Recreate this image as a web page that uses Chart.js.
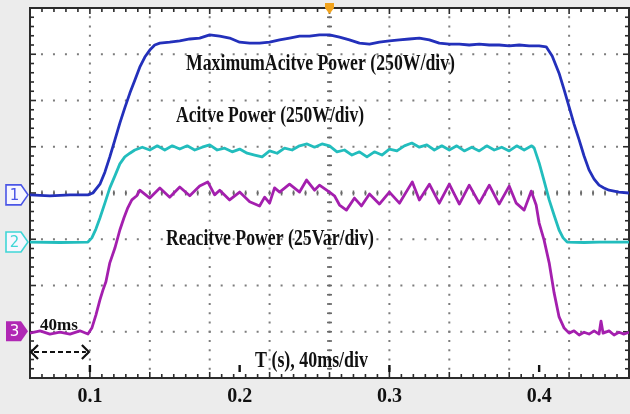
<!DOCTYPE html>
<html>
<head>
<meta charset="utf-8">
<script src="https://cdn.jsdelivr.net/npm/chart.js@4.4.1/dist/chart.umd.min.js"></script>
<style>
  html, body { margin: 0; padding: 0; background: #ececec; }
  canvas { display: block; }
</style>
</head>
<body>
<canvas id="scope" width="630" height="414"></canvas>
<script>
// time in seconds, level in screen divisions (0 = bottom, 8 = top)
var xTicks = [0.1, 0.2, 0.3, 0.4];

var maxActive = [
  [0.06,3.96],[0.0733,3.94],[0.0867,3.96],[0.0987,3.96],[0.102,4.00],[0.1067,4.19],[0.11,4.45],
  [0.1133,4.78],[0.1167,5.15],[0.12,5.51],[0.1233,5.84],[0.1267,6.16],[0.13,6.44],[0.1333,6.72],
  [0.1367,6.94],[0.14,7.09],[0.1433,7.20],[0.1467,7.24],[0.1533,7.26],[0.16,7.29],[0.1667,7.33],
  [0.1733,7.35],[0.18,7.42],[0.1867,7.39],[0.1933,7.35],[0.2,7.26],[0.2067,7.24],[0.2133,7.24],
  [0.22,7.26],[0.2267,7.31],[0.2333,7.35],[0.24,7.39],[0.2467,7.39],[0.2533,7.42],[0.26,7.42],
  [0.2667,7.37],[0.2733,7.31],[0.28,7.24],[0.2867,7.22],[0.2933,7.26],[0.3,7.29],[0.3067,7.31],
  [0.3133,7.33],[0.32,7.35],[0.3267,7.31],[0.3333,7.24],[0.34,7.22],[0.3467,7.22],[0.3533,7.20],
  [0.36,7.22],[0.3667,7.20],[0.3733,7.20],[0.38,7.18],[0.3867,7.20],[0.3933,7.18],[0.4,7.18],
  [0.4047,7.16],[0.4087,6.96],[0.4133,6.59],[0.4167,6.23],[0.42,5.86],[0.4233,5.49],[0.4267,5.15],
  [0.43,4.80],[0.4333,4.50],[0.4367,4.30],[0.44,4.17],[0.4433,4.11],[0.4467,4.06],[0.4533,4.02],[0.46,4.00]
];

var active = [
  [0.06,2.94],[0.08,2.93],[0.0987,2.94],[0.1013,3.03],[0.104,3.22],[0.1067,3.46],[0.11,3.78],
  [0.1133,4.11],[0.1167,4.37],[0.12,4.63],[0.1233,4.78],[0.1267,4.86],[0.13,4.93],
  [0.135,4.99],[0.14,4.93],[0.145,5.02],[0.15,4.93],[0.155,5.02],[0.16,4.95],[0.165,5.02],
  [0.17,4.93],[0.175,4.99],[0.18,5.04],[0.185,4.93],[0.19,4.97],[0.195,4.89],[0.2,4.95],
  [0.205,4.86],[0.21,4.82],[0.215,4.78],[0.22,4.91],[0.225,4.86],[0.23,4.97],[0.235,4.93],
  [0.24,5.02],[0.245,5.06],[0.25,4.99],[0.255,5.06],[0.26,5.02],[0.265,4.89],[0.27,4.93],
  [0.275,4.82],[0.28,4.89],[0.285,4.78],[0.29,4.89],[0.295,4.82],[0.3,4.95],[0.305,4.91],
  [0.31,5.02],[0.315,5.08],[0.32,4.99],[0.325,5.04],[0.33,4.93],[0.335,5.02],[0.34,4.93],
  [0.345,5.02],[0.35,4.91],[0.355,4.99],[0.36,4.91],[0.365,5.02],[0.37,4.93],[0.375,4.99],
  [0.38,4.91],[0.385,5.02],[0.39,4.93],[0.395,5.02],[0.3967,4.97],[0.4,4.65],[0.4033,4.26],
  [0.4067,3.85],[0.41,3.52],[0.4133,3.20],[0.416,3.03],[0.4187,2.94],[0.43,2.93],[0.44,2.94],[0.46,2.94]
];

var reactive = [
  [0.06,0.97],[0.0667,1.02],[0.0733,0.95],[0.08,0.99],[0.0867,0.95],[0.0933,1.02],[0.0987,0.95],
  [0.1013,1.08],[0.104,1.36],[0.1067,1.69],[0.1087,1.90],[0.1107,2.08],[0.1133,2.49],[0.1167,2.81],
  [0.12,3.20],[0.1227,3.46],[0.1253,3.68],[0.128,3.85],[0.1313,3.94],
  [0.1333,4.06],[0.14,3.89],[0.1467,4.11],[0.1533,3.91],[0.16,4.13],[0.1667,3.94],[0.1733,4.15],
  [0.1787,4.24],[0.1833,3.96],[0.1867,4.06],[0.1933,3.85],[0.2,4.02],[0.2067,3.81],[0.2133,3.72],
  [0.2167,3.91],[0.22,3.78],[0.2233,4.11],[0.2267,4.02],[0.2333,4.19],[0.24,4.02],[0.2447,4.28],
  [0.25,4.06],[0.2533,4.17],[0.26,4.02],[0.2633,3.94],[0.2667,3.74],[0.2713,3.63],[0.2767,3.89],
  [0.2813,3.72],[0.2867,3.98],[0.2933,3.76],[0.3,4.02],[0.3067,3.78],[0.3153,4.24],[0.32,3.85],
  [0.3267,4.19],[0.3333,3.78],[0.34,4.19],[0.3467,3.76],[0.3533,4.17],[0.36,3.78],[0.3667,4.17],
  [0.3733,3.76],[0.38,4.15],[0.3847,3.78],[0.39,3.63],[0.3947,4.04],[0.398,3.74],[0.4,3.35],
  [0.4033,2.98],[0.4067,2.49],[0.41,1.84],[0.4133,1.32],[0.4167,1.08],[0.42,0.97],[0.4233,1.02],
  [0.4267,0.93],[0.43,0.99],[0.4333,0.95],[0.4367,1.02],[0.44,0.95],[0.4413,1.23],[0.4427,0.97],
  [0.4467,1.02],[0.45,0.93],[0.4533,0.99],[0.4567,0.95],[0.46,0.99]
];

function pts(arr) { return arr.map(function (p) { return { x: p[0], y: p[1] }; }); }

var SERIF = '"Liberation Serif", "Times New Roman", serif';

// scope screen: grey surround, dotted graticule, border ticks
var screenPlugin = {
  id: 'screen',
  beforeDraw: function (chart) {
    var ctx = chart.ctx, a = chart.chartArea, x = chart.scales.x, y = chart.scales.y;
    ctx.save();
    ctx.fillStyle = '#ececec';
    ctx.fillRect(0, 0, chart.width, chart.height);
    ctx.fillStyle = '#ffffff';
    ctx.fillRect(a.left, a.top, a.right - a.left, a.bottom - a.top);

    var divW = x.getPixelForValue(0.1) - x.getPixelForValue(0.06);
    var divH = y.getPixelForValue(0) - y.getPixelForValue(1);
    var i, k, px, py;
    ctx.fillStyle = '#7c7c7c';
    for (k = 1; k < 10; k++) {
      px = x.getPixelForValue(0.06 + 0.04 * k);
      for (i = 1; i < 40; i++) ctx.fillRect(px - 1, a.top + i * divH / 5 - 1, 2, 2);
    }
    for (k = 1; k < 8; k++) {
      py = y.getPixelForValue(k);
      for (i = 1; i < 50; i++) ctx.fillRect(a.left + i * divW / 5 - 1, py - 1, 2, 2);
    }
    // centre axes with minor marks
    var cx = x.getPixelForValue(0.26), cy = y.getPixelForValue(4);
    ctx.fillStyle = '#6a6a6a';
    for (i = 1; i < 40; i++) ctx.fillRect(cx - 2.5, a.top + i * divH / 5 - 0.8, 5, 1.6);
    for (i = 1; i < 50; i++) ctx.fillRect(a.left + i * divW / 5 - 0.8, cy - 2.5, 1.6, 5);

    // border with inward ticks
    ctx.strokeStyle = '#2b2b2b';
    ctx.lineWidth = 2;
    ctx.strokeRect(a.left, a.top, a.right - a.left, a.bottom - a.top);
    ctx.fillStyle = '#2b2b2b';
    for (i = 1; i < 50; i++) {
      px = a.left + i * divW / 5;
      var len = (i % 5 === 0) ? 6 : 4;
      ctx.fillRect(px - 0.8, a.top, 1.6, len);
      ctx.fillRect(px - 0.8, a.bottom - len, 1.6, len);
    }
    for (i = 1; i < 40; i++) {
      py = a.top + i * divH / 5;
      var l2 = (i % 5 === 0) ? 6 : 4;
      ctx.fillRect(a.left, py - 0.8, l2, 1.6);
      ctx.fillRect(a.right - l2, py - 0.8, l2, 1.6);
    }
    // time tick bars
    ctx.fillStyle = '#111';
    xTicks.forEach(function (t) {
      var tx = x.getPixelForValue(t);
      ctx.fillRect(tx - 1.2, a.bottom - 13, 2.4, 7);
    });
    ctx.restore();
  },
  afterDraw: function (chart) {
    var ctx = chart.ctx, a = chart.chartArea, x = chart.scales.x, y = chart.scales.y;
    ctx.save();
    // labels, condensed bold serif like the original screenshot
    function label(text, lx, base, w, size) {
      ctx.font = 'bold ' + size + 'px ' + SERIF;
      var m = ctx.measureText(text).width;
      ctx.save();
      ctx.translate(lx, base);
      ctx.scale(w / m, 1);
      ctx.fillStyle = '#111';
      ctx.textBaseline = 'alphabetic';
      ctx.fillText(text, 0, 0);
      ctx.restore();
    }
    label('MaximumAcitve Power (250W/div)', 186, 70, 269, 23);
    label('Acitve Power (250W/div)', 176, 122, 188, 23);
    label('Reacitve Power (25Var/div)', 166, 245, 208, 23);
    label('40ms', 40, 330, 38, 17);
    label('T (s), 40ms/div', 255, 367, 113, 23);

    // 40 ms dashed double arrow
    var x0 = x.getPixelForValue(0.06), x1 = x.getPixelForValue(0.1), ay = 352;
    ctx.strokeStyle = '#111';
    ctx.lineWidth = 2.2;
    ctx.setLineDash([5, 3]);
    ctx.beginPath(); ctx.moveTo(x0 + 4, ay); ctx.lineTo(x1 - 4, ay); ctx.stroke();
    ctx.setLineDash([]);
    ctx.beginPath();
    ctx.moveTo(x0 + 8, ay - 7); ctx.lineTo(x0 + 1, ay); ctx.lineTo(x0 + 8, ay + 7);
    ctx.moveTo(x1 - 8, ay - 7); ctx.lineTo(x1 - 1, ay); ctx.lineTo(x1 - 8, ay + 7);
    ctx.stroke();

    // trigger marker
    var tx = x.getPixelForValue(0.26);
    ctx.fillStyle = '#f2a31c';
    ctx.beginPath();
    ctx.moveTo(tx - 4.5, 3); ctx.lineTo(tx + 4.5, 3); ctx.lineTo(tx + 4.5, 8);
    ctx.lineTo(tx, 14); ctx.lineTo(tx - 4.5, 8); ctx.closePath(); ctx.fill();

    // channel ground markers
    function marker(num, level, color, filled) {
      var my = y.getPixelForValue(level);
      ctx.beginPath();
      ctx.moveTo(6, my - 10); ctx.lineTo(21, my - 10); ctx.lineTo(28, my);
      ctx.lineTo(21, my + 10); ctx.lineTo(6, my + 10); ctx.closePath();
      ctx.lineWidth = 1.6;
      if (filled) { ctx.fillStyle = color; ctx.fill(); }
      else { ctx.fillStyle = '#f7f7ff'; ctx.fill(); ctx.strokeStyle = color; ctx.stroke(); }
      ctx.fillStyle = filled ? '#ffffff' : color;
      ctx.font = '15px "DejaVu Sans", sans-serif';
      ctx.textAlign = 'center';
      ctx.textBaseline = 'middle';
      ctx.fillText(num, 14.5, my + 1);
    }
    marker('1', maxActive[0][1], '#4a55e6', false);
    marker('2', active[0][1], '#3fd6d6', false);
    marker('3', reactive[0][1] + 0.04, '#b028b4', true);
    ctx.restore();
  }
};

new Chart(document.getElementById('scope'), {
  type: 'line',
  data: {
    datasets: [
      { label: 'Maximum Active Power', data: pts(maxActive), borderColor: '#2330bb', borderWidth: 2.8 },
      { label: 'Active Power', data: pts(active), borderColor: '#22bdbd', borderWidth: 2.8 },
      { label: 'Reactive Power', data: pts(reactive), borderColor: '#a41fae', borderWidth: 2.8 }
    ]
  },
  options: {
    responsive: false,
    animation: false,
    devicePixelRatio: 1,
    layout: { padding: { left: 30, top: 8, right: 1, bottom: 0 } },
    elements: { point: { radius: 0 }, line: { tension: 0, borderJoinStyle: 'round' } },
    plugins: { legend: { display: false }, tooltip: { enabled: false } },
    scales: {
      x: {
        type: 'linear', min: 0.06, max: 0.46,
        afterBuildTicks: function (s) { s.ticks = xTicks.map(function (v) { return { value: v }; }); },
        afterFit: function (s) { s.height = 36; },
        grid: { display: false, drawTicks: false },
        border: { display: false },
        ticks: {
          padding: 7, maxRotation: 0, autoSkip: false, color: '#111',
          font: { family: SERIF, weight: 'bold', size: 20 },
          callback: function (v) { return v.toFixed(1); }
        }
      },
      y: { min: 0, max: 8, display: false }
    }
  },
  plugins: [screenPlugin]
});
</script>
</body>
</html>
